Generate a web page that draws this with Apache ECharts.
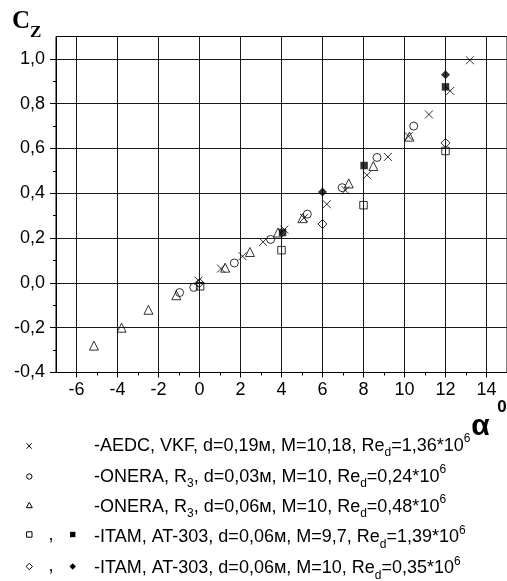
<!DOCTYPE html>
<html>
<head>
<meta charset="utf-8">
<script src="https://cdn.jsdelivr.net/npm/echarts@6/dist/echarts.min.js"></script>
<style>
html,body{margin:0;padding:0;background:#fff;}
#chart{width:507px;height:581px;}
</style>
</head>
<body>
<div id="chart"></div>
<script>
// ---- data (alpha, deg ; Cz) ----
const aedcX = [-0.05, 1.05, 2.1, 3.1, 4.14, 5.1, 6.21, 7.12, 8.17, 9.19, 10.2, 11.19, 12.23, 13.19];
const aedcY = [0.01, 0.064, 0.119, 0.183, 0.238, 0.29, 0.351, 0.414, 0.481, 0.5625, 0.655, 0.752, 0.857, 0.994];
const onera03X = [-0.97, -0.28, 1.70, 3.47, 5.26, 6.96, 8.66, 10.45];
const onera03Y = [-0.043, -0.02, 0.089, 0.194, 0.307, 0.425, 0.56, 0.70];
const onera06X = [-5.15, -3.8, -2.49, -1.13, 1.25, 2.46, 3.83, 5.02, 7.28, 8.48, 10.24];
const onera06Y = [-0.28, -0.20, -0.12, -0.055, 0.068, 0.138, 0.225, 0.289, 0.444, 0.522, 0.653];
const itam97OpenX = [0.03, 4.0, 8.0, 12.0];
const itam97OpenY = [-0.015, 0.146, 0.347, 0.589];
const itam97FillX = [4.05, 8.03, 12.0];
const itam97FillY = [0.225, 0.524, 0.875];
const itam10OpenX = [0.0, 6.0, 12.0];
const itam10OpenY = [0.0, 0.263, 0.625];
const itam10FillX = [6.0, 12.0];
const itam10FillY = [0.406, 0.929];

// ---- ticks ----
const xTicks = [-6, -4, -2, 0, 2, 4, 6, 8, 10, 12, 14];
const xMinorTicks = [-5, -3, -1, 1, 3, 5, 7, 9, 11, 13];
const yTicks = [-0.4, -0.2, 0.0, 0.2, 0.4, 0.6, 0.8, 1.0];
const yMinorTicks = [-0.3, -0.1, 0.1, 0.3, 0.5, 0.7, 0.9];

// ---- legend texts ----
const legendTexts = [
  '-AEDC, VKF, d=0,19м, M=10,18, Re{sub|d}=1,36*10{sup|6}',
  '-ONERA, R{sub|3}, d=0,03м, M=10, Re{sub|d}=0,24*10{sup|6}',
  '-ONERA, R{sub|3}, d=0,06м, M=10, Re{sub|d}=0,48*10{sup|6}',
  '-ITAM, AT-303, d=0,06м, M=9,7, Re{sub|d}=1,39*10{sup|6}',
  '-ITAM, AT-303, d=0,06м, M=10, Re{sub|d}=0,35*10{sup|6}'
];

const pairs = (xs, ys) => xs.map((x, i) => [x, ys[i]]);
const FONT = '"Liberation Sans", Arial, sans-serif';
const BLACK = '#000';
const GRIDC = '#1a1a1a';
const CROSS = 'path://M0,0L10,10M0,10L10,0';
const openStyle = {color: 'rgba(0,0,0,0)', borderColor: BLACK, borderWidth: 1};
const fillStyle = {color: BLACK, borderColor: BLACK, borderWidth: 0};

function sc(name, xs, ys, symbol, size, style) {
  return {
    name, type: 'scatter', xAxisIndex: 0, yAxisIndex: 0,
    data: pairs(xs, ys), symbol, symbolSize: size,
    itemStyle: style, emphasis: {disabled: true}, silent: true
  };
}

const chart = echarts.init(document.getElementById('chart'), null, {renderer: 'canvas'});

const gridL = 56, gridT = 36.5, gridW = 453, gridH = 336;

// legend graphics
const rowY = [446, 477, 507, 537.5, 568.5];
const textDY = 0;
const symX = 29, sym2X = 72.7, textX = 94;
const s = 2.7;
const legendGraphics = [];
const stroke = {stroke: BLACK, lineWidth: 1, fill: 'none'};
// row 1: cross
legendGraphics.push({type: 'polyline', shape: {points: [[symX - s + 0.3, rowY[0] - s], [symX + s, rowY[0] + s]]}, style: stroke});
legendGraphics.push({type: 'polyline', shape: {points: [[symX - s + 0.3, rowY[0] + s], [symX + s, rowY[0] - s]]}, style: stroke});
// row 2: circle
legendGraphics.push({type: 'circle', shape: {cx: symX + 0.3, cy: rowY[1] - 0.5, r: s}, style: stroke});
// row 3: triangle
legendGraphics.push({type: 'polygon', shape: {points: [[symX + 0.3, rowY[2] - 2 - s], [symX + 0.3 + s + 0.3, rowY[2] - 2 + s], [symX + 0.3 - s - 0.3, rowY[2] - 2 + s]]}, style: stroke});
// row 4: open rect, comma, filled rect
legendGraphics.push({type: 'rect', shape: {x: symX + 0.3 - s, y: rowY[3] - 3 - s, width: 2 * s, height: 2 * s}, style: stroke});
legendGraphics.push({type: 'rect', shape: {x: sym2X - s, y: rowY[3] - 3 - s, width: 2 * s, height: 2 * s}, style: {fill: BLACK}});
// row 5: open diamond, comma, filled diamond
const dia = (cx, cy, r) => [[cx, cy - r], [cx + r, cy], [cx, cy + r], [cx - r, cy]];
legendGraphics.push({type: 'polygon', shape: {points: dia(symX + 0.3, rowY[4] - 2, 3.2)}, style: stroke});
legendGraphics.push({type: 'polygon', shape: {points: dia(sym2X, rowY[4] - 2, 3.2)}, style: {fill: BLACK}});
// commas
[3, 4].forEach(r => legendGraphics.push({type: 'text', x: 51, y: rowY[r] - 2, style: {text: ',', font: '18px ' + FONT, fill: BLACK, align: 'center', verticalAlign: 'middle'}}));
// legend texts
legendTexts.forEach((t, i) => {
  legendGraphics.push({
    type: 'text', x: textX, y: rowY[i] + textDY,
    style: {
      text: '{n|' + t.replace(/\{(sub|sup)\|([^}]*)\}/g, '}{$1|$2}{n|') + '}',
      fill: BLACK, align: 'left', verticalAlign: 'middle',
      rich: {
        n: {fontSize: 18, fontFamily: FONT, lineHeight: 26, verticalAlign: 'middle', fill: BLACK},
        sub: {fontSize: 12, fontFamily: FONT, lineHeight: 12, verticalAlign: 'bottom', fill: BLACK},
        sup: {fontSize: 12, fontFamily: FONT, lineHeight: 12, verticalAlign: 'top', fill: BLACK}
      }
    }
  });
});

// axis titles
const titleGraphics = [
  {type: 'text', x: 12, y: 34, style: {text: 'C', font: 'bold 25px "Liberation Serif", "Times New Roman", serif', fill: BLACK, align: 'left', verticalAlign: 'bottom'}},
  {type: 'text', x: 30, y: 41.5, style: {text: 'Z', font: 'bold 17px "Liberation Serif", "Times New Roman", serif', fill: BLACK, align: 'left', verticalAlign: 'bottom'}},
  {type: 'text', x: 480.5, y: 427, style: {text: 'α', font: 'bold 30px ' + FONT, fill: BLACK, align: 'center', verticalAlign: 'middle'}},
  {type: 'text', x: 502, y: 407, style: {text: '0', font: 'bold 17px ' + FONT, fill: BLACK, align: 'center', verticalAlign: 'middle'}}
];

const option = {
  backgroundColor: '#fff',
  animation: false,
  grid: {left: gridL, top: gridT, width: gridW, height: gridH, show: true, borderColor: BLACK, borderWidth: 1, containLabel: false},
  xAxis: [
    {
      type: 'value', min: -7, max: 15, gridIndex: 0, position: 'bottom',
      axisLine: {show: true, onZero: false, lineStyle: {color: BLACK, width: 1}},
      axisTick: {show: true, inside: false, length: 5, customValues: xTicks, lineStyle: {color: BLACK}},
      axisLabel: {show: true, customValues: xTicks, margin: 9, fontSize: 18, fontFamily: FONT, color: BLACK,
        formatter: v => String(v)},
      splitLine: {show: true, lineStyle: {color: GRIDC, width: 1, opacity: 1}}
    },
    {
      type: 'value', min: -7, max: 15, gridIndex: 0, position: 'bottom', offset: 0,
      axisLine: {show: false, onZero: false},
      axisTick: {show: true, inside: false, length: 3, customValues: xMinorTicks, lineStyle: {color: BLACK}},
      axisLabel: {show: false},
      splitLine: {show: false}
    }
  ],
  yAxis: [
    {
      type: 'value', min: -0.4, max: 1.1, gridIndex: 0, position: 'left',
      axisLine: {show: true, onZero: false, lineStyle: {color: BLACK, width: 1}},
      axisTick: {show: true, inside: false, length: 6, customValues: yTicks, lineStyle: {color: BLACK}},
      axisLabel: {show: true, customValues: yTicks, margin: 11, fontSize: 18, fontFamily: FONT, color: BLACK,
        formatter: v => v.toFixed(1).replace('.', ',').replace('-0,0', '0,0')},
      splitLine: {show: true, lineStyle: {color: GRIDC, width: 1, opacity: 1}}
    },
    {
      type: 'value', min: -0.4, max: 1.1, gridIndex: 0, position: 'left', offset: 0,
      axisLine: {show: false, onZero: false},
      axisTick: {show: true, inside: false, length: 3, customValues: yMinorTicks, lineStyle: {color: BLACK}},
      axisLabel: {show: false},
      splitLine: {show: false}
    }
  ],
  series: [
    sc('AEDC', aedcX, aedcY, CROSS, 8, {color: 'rgba(0,0,0,0)', borderColor: BLACK, borderWidth: 1}),
    sc('ONERA 0.03', onera03X, onera03Y, 'circle', 8, openStyle),
    sc('ONERA 0.06', onera06X, onera06Y, 'triangle', 9, openStyle),
    sc('ITAM 9.7 open', itam97OpenX, itam97OpenY, 'rect', 7.5, openStyle),
    sc('ITAM 10 open', itam10OpenX, itam10OpenY, 'diamond', 9, openStyle),
    sc('ITAM 9.7 fill', itam97FillX, itam97FillY, 'rect', 7.5, fillStyle),
    sc('ITAM 10 fill', itam10FillX, itam10FillY, 'diamond', 9, fillStyle)
  ],
  graphic: legendGraphics.concat(titleGraphics).map(g => Object.assign({silent: true, z: 100}, g))
};
chart.setOption(option);
</script>
</body>
</html>
